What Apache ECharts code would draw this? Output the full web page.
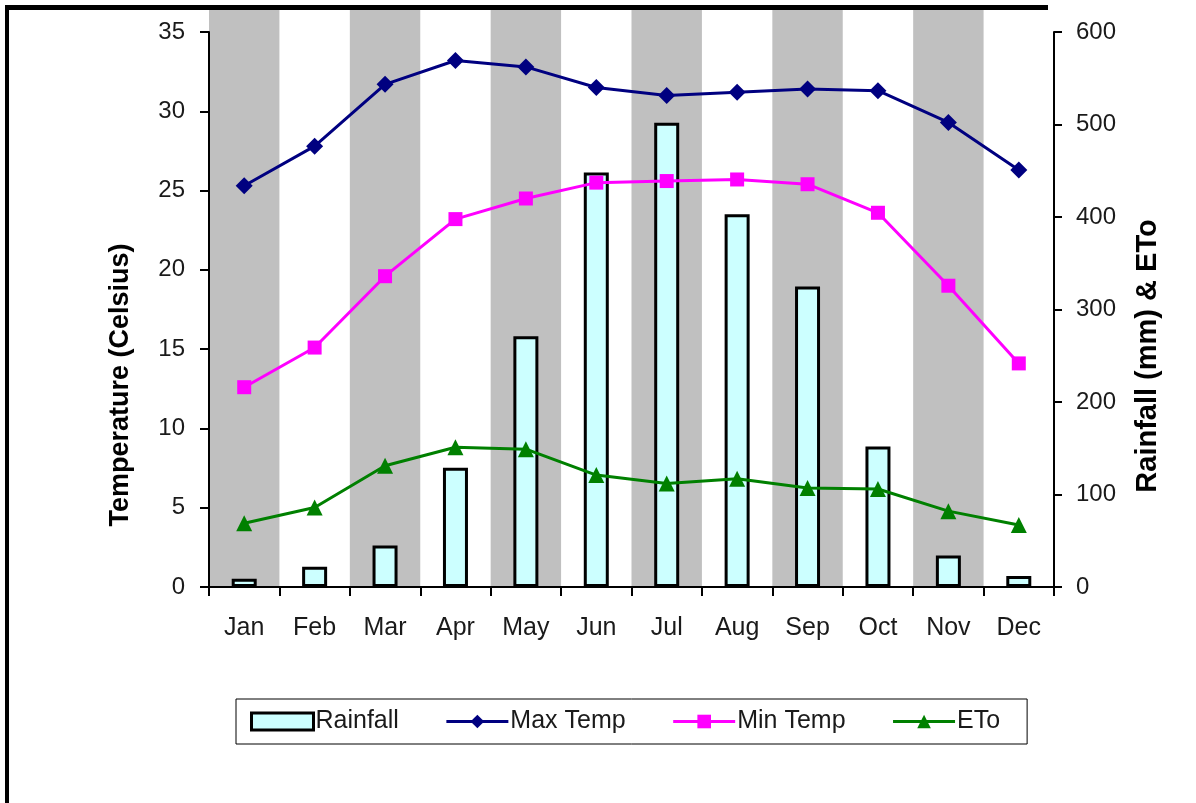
<!DOCTYPE html>
<html>
<head>
<meta charset="utf-8">
<style>
  html, body { margin: 0; padding: 0; background: #fff; }
  #chart { width: 1196px; height: 803px; }
</style>
<script src="https://cdn.jsdelivr.net/npm/echarts@6/dist/echarts.min.js"></script>
</head>
<body>
<div id="chart"></div>
<script>
// Monthly climate data
const months = ['Jan', 'Feb', 'Mar', 'Apr', 'May', 'Jun', 'Jul', 'Aug', 'Sep', 'Oct', 'Nov', 'Dec'];
const rainfall = [9, 22, 45, 129, 271, 448, 502, 403, 325, 152, 34, 12];      // mm
const maxTemp  = [25.3, 27.8, 31.7, 33.2, 32.8, 31.5, 31.0, 31.2, 31.4, 31.3, 29.3, 26.3];  // °C
const minTemp  = [12.6, 15.1, 19.6, 23.2, 24.5, 25.5, 25.6, 25.7, 25.4, 23.6, 19.0, 14.1];  // °C
const eto      = [69, 86, 131, 151, 149, 121, 112, 117, 107, 106, 82, 67];    // mm
// alternating background bands (1 = shaded month)
const bands    = [1, 0, 1, 0, 1, 0, 1, 0, 1, 0, 1, 0];

const FONT = 'Liberation Sans, Arial, sans-serif';
const TXT = '#1a1a1a';

const chart = echarts.init(document.getElementById('chart'), null, { renderer: 'canvas' });

chart.setOption({
  animation: false,
  backgroundColor: '#ffffff',
  textStyle: { fontFamily: FONT },
  grid: [
    { left: 209, right: 142, top: 32, bottom: 216, containLabel: false },
    { left: 209, right: 142, top: 10, bottom: 216, containLabel: false }
  ],
  xAxis: [
    {
      type: 'category', gridIndex: 0, data: months, boundaryGap: true,
      axisLine: { lineStyle: { color: '#000', width: 2 } },
      axisTick: { show: true, length: 9, lineStyle: { color: '#000', width: 2 } },
      axisLabel: { color: TXT, fontSize: 25, margin: 29, fontFamily: FONT },
      z: 5
    },
    {
      type: 'category', gridIndex: 1, data: months, boundaryGap: true, show: false
    }
  ],
  yAxis: [
    {
      type: 'value', gridIndex: 0, min: 0, max: 35, interval: 5, position: 'left',
      axisLine: { show: true, lineStyle: { color: '#000', width: 2 } },
      axisTick: { show: true, length: 9, lineStyle: { color: '#000', width: 2 } },
      axisLabel: { color: TXT, fontSize: 24, margin: 24, fontFamily: FONT },
      splitLine: { show: false },
      z: 5
    },
    {
      type: 'value', gridIndex: 0, min: 0, max: 600, interval: 100, position: 'right',
      axisLine: { show: true, lineStyle: { color: '#000', width: 2 } },
      axisTick: { show: true, length: 8, lineStyle: { color: '#000', width: 2 } },
      axisLabel: { color: TXT, fontSize: 24, margin: 22, fontFamily: FONT },
      splitLine: { show: false },
      z: 5
    },
    {
      type: 'value', gridIndex: 1, min: 0, max: 1, show: false
    }
  ],
  legend: {
    left: 236, top: 699,
    orient: 'horizontal',
    data: [
      { name: 'Rainfall', icon: 'rect', itemStyle: { borderWidth: 3, borderColor: '#000' } },
      { name: 'Max Temp' },
      { name: 'Min Temp' },
      { name: 'ETo' }
    ],
    itemWidth: 62, itemHeight: 17, itemGap: 46,
    padding: [10, 27, 10, 14],
    borderColor: '#000', borderWidth: 1,
    backgroundColor: '#fff',
    lineStyle: { width: 3 },
    textStyle: { color: TXT, fontSize: 25, fontFamily: FONT, padding: [0, 0, 0, -3] },
    selectedMode: false
  },
  series: [
    {
      name: 'bands', type: 'bar', xAxisIndex: 1, yAxisIndex: 2,
      data: bands, barWidth: '100%', barCategoryGap: 0,
      itemStyle: { color: '#c0c0c0' }, silent: true, z: 0
    },
    {
      name: 'Rainfall', type: 'bar', xAxisIndex: 0, yAxisIndex: 1,
      data: rainfall, barWidth: 25,
      itemStyle: { color: '#ccffff', borderColor: '#000', borderWidth: 3 },
      z: 3
    },
    {
      name: 'Max Temp', type: 'line', xAxisIndex: 0, yAxisIndex: 0,
      data: maxTemp, symbol: 'diamond', symbolSize: 17,
      lineStyle: { color: '#000080', width: 3 },
      itemStyle: { color: '#000080' }, z: 4
    },
    {
      name: 'Min Temp', type: 'line', xAxisIndex: 0, yAxisIndex: 0,
      data: minTemp, symbol: 'rect', symbolSize: 14,
      lineStyle: { color: '#ff00ff', width: 3 },
      itemStyle: { color: '#ff00ff' }, z: 4
    },
    {
      name: 'ETo', type: 'line', xAxisIndex: 0, yAxisIndex: 1,
      data: eto, symbol: 'triangle', symbolSize: 16,
      lineStyle: { color: '#008000', width: 3 },
      itemStyle: { color: '#008000' }, z: 4
    }
  ],
  graphic: [
    // frame lines
    { type: 'rect', left: 5, top: 5, shape: { width: 4, height: 798 }, style: { fill: '#000' }, z: 10 },
    { type: 'rect', left: 5, top: 5, shape: { width: 1043, height: 5 }, style: { fill: '#000' }, z: 10 },
    // axis titles
    {
      type: 'text', x: 121, y: 385, rotation: Math.PI / 2,
      style: {
        text: 'Temperature (Celsius)', fill: '#000',
        font: 'bold 27px ' + FONT, align: 'center', verticalAlign: 'middle'
      }, z: 10
    },
    {
      type: 'text', x: 1148, y: 356, rotation: Math.PI / 2,
      style: {
        text: 'Rainfall (mm) & ETo', fill: '#000',
        font: 'bold 29px ' + FONT, align: 'center', verticalAlign: 'middle'
      }, z: 10
    }
  ]
});
</script>
</body>
</html>
